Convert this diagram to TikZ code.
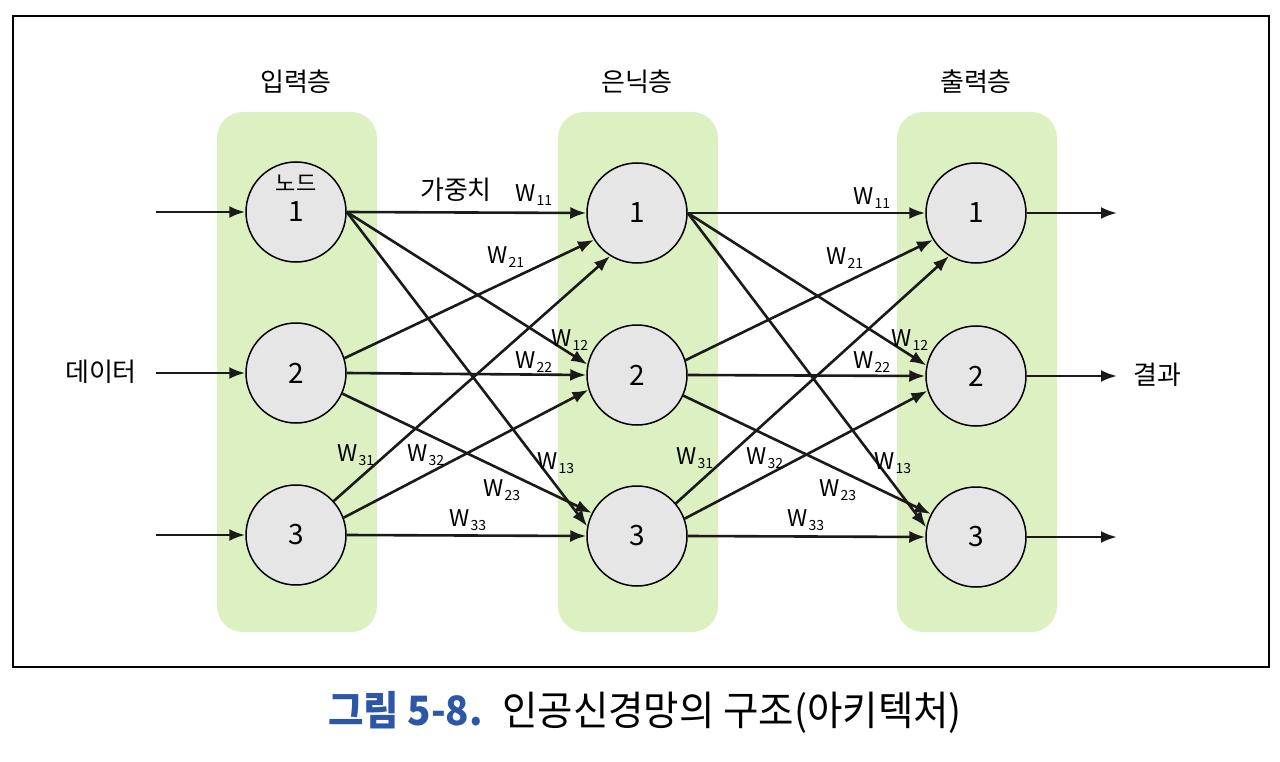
\documentclass[tikz,border=0pt]{standalone}
\usepackage{fontspec}
\setmainfont{Noto Sans CJK KR}
\usetikzlibrary{arrows.meta}
\definecolor{layergreen}{HTML}{DDF0C2}
\definecolor{nodegray}{HTML}{E6E6E6}
\definecolor{capblue}{HTML}{2C57A8}
\definecolor{linedark}{HTML}{1A1A1A}
\newcommand{\wlab}[1]{W\kern0.5pt\raisebox{-0.35ex}{\fontsize{14}{14}\selectfont #1}}
\begin{document}
\begin{tikzpicture}[x=1pt,y=-1pt,
  layerbox/.style={fill=layergreen, rounded corners=26pt},
  neuron/.style={circle, draw=black, line width=1.5pt, fill=nodegray, minimum size=100pt, inner sep=0pt, font=\fontsize{28}{28}\selectfont},
  conn/.style={line width=2.6pt, draw=linedark, -{Latex[length=16pt,width=12pt]}},
  wlabel/.style={font=\fontsize{23}{23}\selectfont, inner sep=0pt},
  title/.style={font=\fontsize{26}{26}\selectfont, inner sep=0pt}]
\useasboundingbox (0,0) rectangle (1280,762);
\fill[white] (0,0) rectangle (1280,762);
\draw[line width=2pt] (13,16) rectangle (1269,667);
% layer boxes
\fill[layerbox] (217,112) rectangle (377,632);
\fill[layerbox] (558,112) rectangle (718,632);
\fill[layerbox] (897,112) rectangle (1057,632);
% titles
\node[title] (t1) at (296,82) {입력층};
\node[title] (t2) at (637,82) {은닉층};
\node[title] (t3) at (976,82) {출력층};
% neurons
\node[neuron] (a1) at (296,212) {1};
\node[neuron] (a2) at (296,373) {2};
\node[neuron] (a3) at (296,535) {3};
\node[neuron] (b1) at (637,213) {1};
\node[neuron] (b2) at (637,375) {2};
\node[neuron] (b3) at (637,536) {3};
\node[neuron] (c1) at (976,213) {1};
\node[neuron] (c2) at (976,376) {2};
\node[neuron] (c3) at (976,537) {3};
\node[font=\fontsize{22}{22}\selectfont, inner sep=0pt] (nd) at (296,183) {노드};
% inputs / outputs
\coordinate (i1) at (156,212);
\coordinate (i2) at (156,373);
\coordinate (i3) at (156,535);
\coordinate (o1) at (1117,213);
\coordinate (o2) at (1117,376);
\coordinate (o3) at (1117,537);
\draw[conn] (i1) -- (a1.west);
\draw[conn] (i2) -- (a2.west);
\draw[conn] (i3) -- (a3.west);
\draw[conn] (c1.east) -- (o1);
\draw[conn] (c2.east) -- (o2);
\draw[conn] (c3.east) -- (o3);
% A -> B
\draw[conn] (a1.east) -- (b1.west);
\draw[conn] (a1.east) -- (b2.168);
\draw[conn] (a1.east) -- (b3.169);
\draw[conn] (a2.17) -- (b1.212);
\draw[conn] (a2.east) -- (b2.west);
\draw[conn] (a2.-24) -- (b3.153);
\draw[conn] (a3.42) -- (b1.238);
\draw[conn] (a3.20) -- (b2.197);
\draw[conn] (a3.east) -- (b3.west);
% B -> C
\draw[conn] (b1.east) -- (c1.west);
\draw[conn] (b1.east) -- (c2.168);
\draw[conn] (b1.east) -- (c3.169);
\draw[conn] (b2.17) -- (c1.212);
\draw[conn] (b2.east) -- (c2.west);
\draw[conn] (b2.-24) -- (c3.153);
\draw[conn] (b3.40) -- (c1.238);
\draw[conn] (b3.20) -- (c2.197);
\draw[conn] (b3.east) -- (c3.west);
% texts
\node[title] (data) at (101,372) {데이터};
\node[title] (res) at (1157,375) {결과};
\node[title] (wt) at (456,190) {가중치};
% weight labels A-B
\node[wlabel] (wa11) at (534,195) {\wlab{11}};
\node[wlabel] (wa21) at (506,257) {\wlab{21}};
\node[wlabel] (wa12) at (570,340) {\wlab{12}};
\node[wlabel] (wa22) at (534,362) {\wlab{22}};
\node[wlabel] (wa31) at (356,455) {\wlab{31}};
\node[wlabel] (wa32) at (426,455) {\wlab{32}};
\node[wlabel] (wa13) at (556,463) {\wlab{13}};
\node[wlabel] (wa23) at (502,490) {\wlab{23}};
\node[wlabel] (wa33) at (468,520) {\wlab{33}};
% weight labels B-C
\node[wlabel] (wb11) at (872,198) {\wlab{11}};
\node[wlabel] (wb21) at (845,258) {\wlab{21}};
\node[wlabel] (wb12) at (910,340) {\wlab{12}};
\node[wlabel] (wb22) at (872,362) {\wlab{22}};
\node[wlabel] (wb31) at (695,458) {\wlab{31}};
\node[wlabel] (wb32) at (765,458) {\wlab{32}};
\node[wlabel] (wb13) at (893,463) {\wlab{13}};
\node[wlabel] (wb23) at (838,490) {\wlab{23}};
\node[wlabel] (wb33) at (806,520) {\wlab{33}};
% caption
\node[inner sep=0pt, font=\fontsize{38.5}{38.5}\selectfont, yscale=1.05] (cap) at (645,712)
  {{\color{capblue}\bfseries 그림 5-8.}\hspace{0.5em}인공신경망의 구조(아키텍처)};
\end{tikzpicture}
\end{document}
